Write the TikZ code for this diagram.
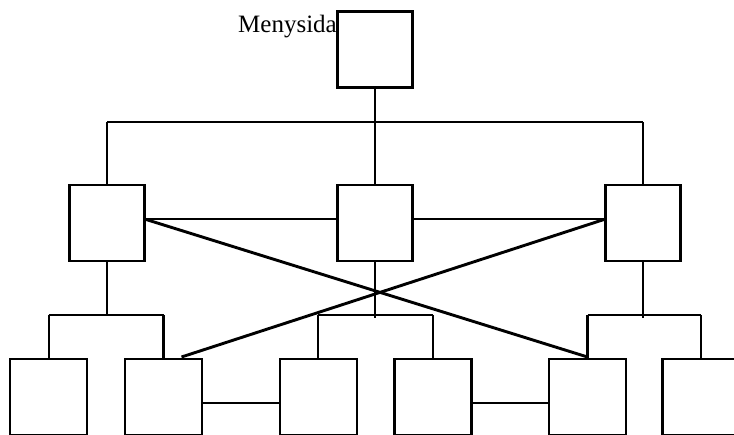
\documentclass[tikz,border=0pt]{standalone}
\usepackage{fontspec}
\setmainfont{Liberation Serif}
\begin{document}
\begin{tikzpicture}[x=1pt,y=-1pt,
  box/.style={draw,line width=2.5pt,minimum width=75pt,minimum height=76pt,inner sep=0pt,outer sep=0pt},
  conn/.style={line width=2.3pt},
  diag/.style={line width=2.9pt}]
\useasboundingbox (0,0) rectangle (734,434);
\clip (0,0) rectangle (734,434);
% boxes
\node[box] (top) at (375,49.5) {};
\node[box] (L) at (107,223) {};
\node[box] (M) at (375,223) {};
\node[box] (R) at (643,223) {};
\node[box,minimum width=77pt] (b1) at (48.7,397) {};
\node[box,minimum width=77pt] (b2) at (163.5,397) {};
\node[box,minimum width=77pt] (b3) at (318.3,397) {};
\node[box,minimum width=77pt] (b4) at (433,397) {};
\node[box,minimum width=77pt] (b5) at (587.5,397) {};
\node[box,minimum width=77pt] (b6) at (701,397) {};
% label
\node[anchor=base east,font=\fontsize{25}{30}\selectfont,inner sep=0pt] (lbl) at (337,32) {Menysida};
% top tree
\coordinate (tj) at (375,122);
\draw[conn] (top.south) -- (tj);
\draw[conn] (L.north |- tj) -- (R.north |- tj);
\draw[conn] (L.north |- tj) -- (L.north);
\draw[conn] (M.north |- tj) -- (M.north);
\draw[conn] (R.north |- tj) -- (R.north);
% second level branches
\coordinate (lj) at (107,315);
\draw[conn] (L.south) -- (L.south |- lj);
\draw[conn] (b1.north |- lj) -- (b2.north |- lj);
\draw[conn] (b1.north |- lj) -- (b1.north);
\draw[conn] (b2.north |- lj) -- (b2.north);
\coordinate (mj) at (375,318);
\draw[conn] (M.south) -- (mj);
\draw[conn] (b3.north |- lj) -- (b4.north |- lj);
\draw[conn] (b3.north |- lj) -- (b3.north);
\draw[conn] (b4.north |- lj) -- (b4.north);
\coordinate (rj) at (643,317.7);
\draw[conn] (R.south) -- (rj);
\draw[conn] (b5.north |- lj) -- (b6.north |- lj);
\draw[conn] (b5.north |- lj) -- (b5.north);
\draw[conn] (b6.north |- lj) -- (b6.north);
% horizontal links on level 2
\draw[conn] ([yshift=4pt]L.east) -- ([yshift=4pt]M.west);
\draw[conn] ([yshift=4pt]M.east) -- ([yshift=4pt]R.west);
% diagonals
\draw[diag] ([yshift=4pt]L.east) -- ([yshift=2pt]b5.north);
\draw[diag] ([yshift=4pt]R.west) -- ([xshift=18pt,yshift=2pt]b2.north);
% bottom links
\draw[conn] ([yshift=-6pt]b2.east) -- ([yshift=-6pt]b3.west);
\draw[conn] ([yshift=-6pt]b4.east) -- ([yshift=-6pt]b5.west);
\end{tikzpicture}
\end{document}
